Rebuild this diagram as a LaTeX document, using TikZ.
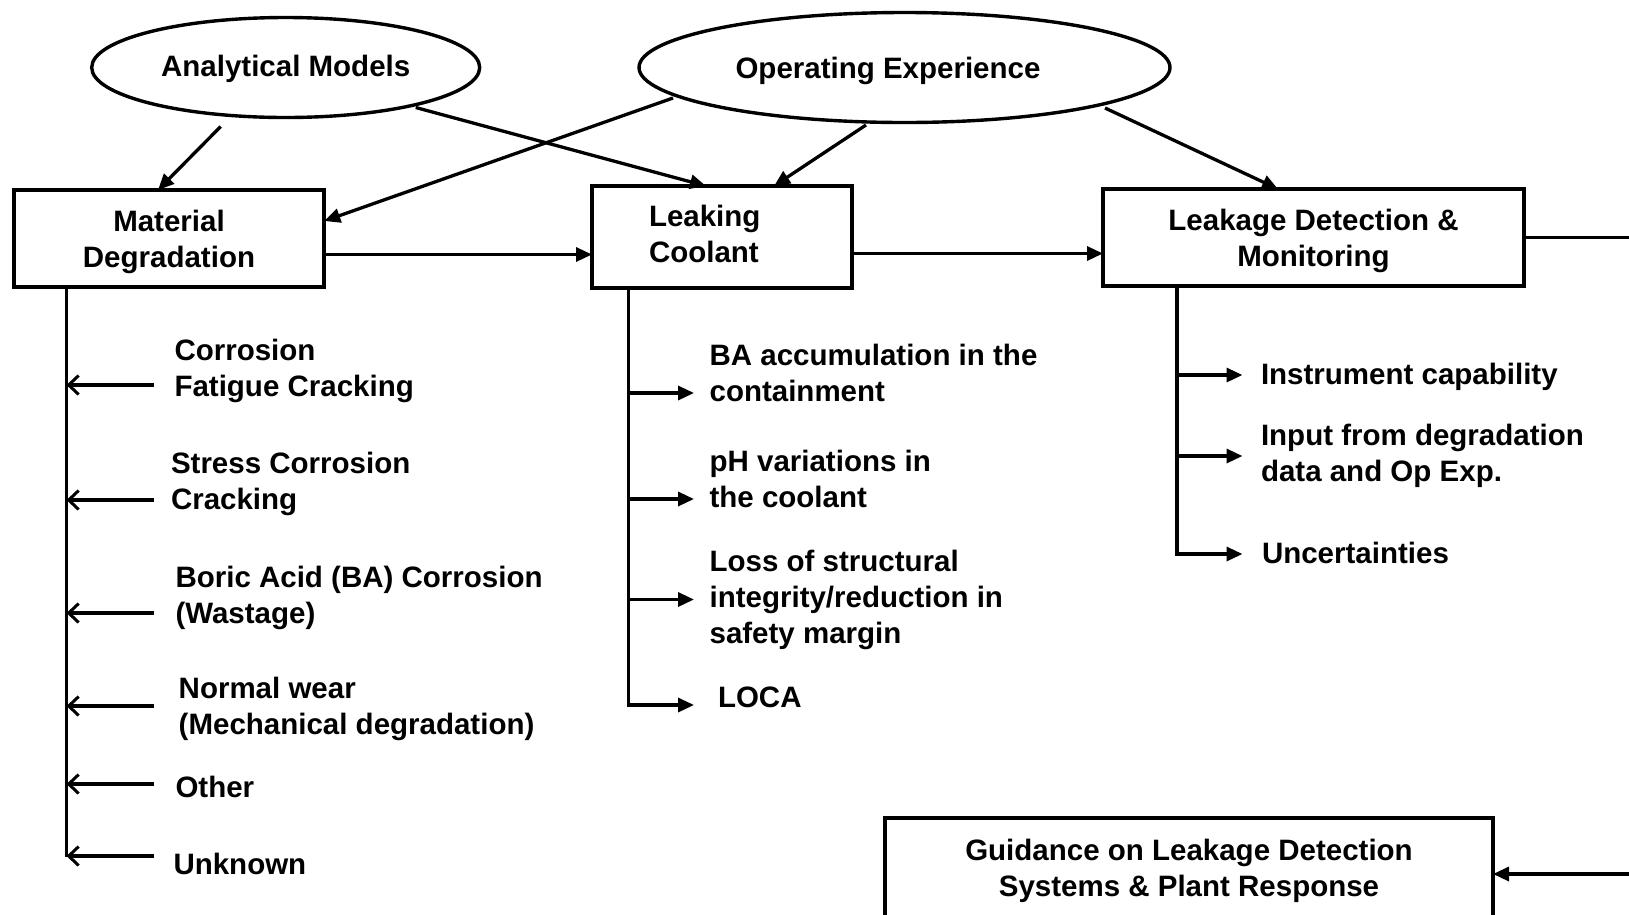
\documentclass[tikz,border=0pt]{standalone}
\usepackage{fontspec}
\setmainfont{Liberation Sans}
\usetikzlibrary{arrows.meta,shapes.geometric,calc}
\begin{document}
\begin{tikzpicture}[x=1pt,y=-1pt,
  every node/.style={font=\fontsize{29.5}{36}\selectfont\bfseries, inner sep=0pt, outer sep=0pt},
  box/.style={draw, line width=3.6pt, rectangle, align=center},
  ell/.style={draw, line width=3.4pt, ellipse},
  lbl/.style={anchor=north west, align=left},
  arr/.style={line width=3.3pt, -{Triangle[length=16pt,width=14pt]}},
  barb/.style={line width=3.3pt, -{Straight Barb[length=10pt,width=19pt,line width=3pt]}},
  ln/.style={line width=3.3pt}
]
\useasboundingbox (0,0) rectangle (1629,914);

% top ellipses
\node[ell, minimum width=388pt, minimum height=100pt] (am) at (285.7,67.5) {\rule{0pt}{24pt}Analytical Models};
\node[ell, minimum width=531pt, minimum height=110pt] (oe) at (904.5,67.5) {};
\node (oet) at (888,71) {Operating Experience};

% main boxes
\node[box, minimum width=310.5pt, minimum height=97pt] (md) at (169,238.5) {\rule{0pt}{28pt}Material\\Degradation};
\node[box, minimum width=260pt, minimum height=102pt] (lc) at (722,237) {};
\node[lbl] (lct) at (649,205) {Leaking\\Coolant};
\node[box, minimum width=421pt, minimum height=97pt] (le) at (1313.5,237.5) {\rule{0pt}{28.5pt}Leakage Detection \&\\Monitoring};
\node[box, minimum width=608pt, minimum height=104pt] (gd) at (1189,870) {\rule{0pt}{24pt}Guidance on Leakage Detection\\Systems \& Plant Response};

% ellipse connectors
\draw[arr] ($(am.south)+(-65,9)$) -- ($(md.north)+(-11,0)$);
\draw[arr] ($(am.center)+(130,40)$) -- ($(lc.north)+(-16,0)$);
\draw[arr] ($(oe.center)+(-231.5,30.5)$) -- ($(md.east)+(0,-17.5)$);
\draw[arr] ($(oe.south)+(-38.5,2.5)$) -- ($(lc.north)+(52,0)$);
\draw[arr] ($(oe.center)+(200.5,40.5)$) -- ($(le.north)+(-35.5,0)$);

% horizontal chain
\coordinate (mdo) at ($(md.east)+(0,16)$);
\draw[arr] (mdo) -- (mdo -| lc.west);
\coordinate (lco) at ($(lc.east)+(0,16.5)$);
\draw[arr] (lco) -- (lco -| le.west);
\draw[arr] (le.east) -- ++(130,0) coordinate (rc) |- ($(gd.east)+(0,4)$);

% left group (material degradation)
\coordinate (mdb) at (66.5,857);
\draw[ln] (md.south -| mdb) -- (mdb);
\node[lbl] (t1) at (174.5,339) {Corrosion\\Fatigue Cracking};
\node[lbl] (t2) at (171,452) {Stress Corrosion\\Cracking};
\node[lbl] (t3) at (175.5,566) {Boric Acid (BA) Corrosion\\(Wastage)};
\node[lbl] (t4) at (178.7,677) {Normal wear\\(Mechanical degradation)};
\node[lbl] (t5) at (175.5,776) {Other};
\node[lbl] (t6) at (173.5,853) {Unknown};
\coordinate (a1) at (154,385);
\coordinate (a2) at (154,500);
\coordinate (a3) at (154,613);
\coordinate (a4) at (154,706);
\coordinate (a5) at (154,784);
\coordinate (a6) at (154,856);
\foreach \a in {a1,a2,a3,a4,a5,a6} {\draw[barb] (\a) -- (\a -| mdb);}

% middle group (leaking coolant)
\coordinate (lcb) at (628.5,705);
\draw[arr] (lc.south -| lcb) -- (lcb) -- ++(65.5,0);
\coordinate (b1) at (628.5,393);
\coordinate (b2) at (628.5,499);
\coordinate (b3) at (628.5,599.5);
\foreach \b in {b1,b2,b3} {\draw[arr] (\b) -- ++(65.5,0);}
\node[lbl] (m1) at (709.6,344) {BA accumulation in the\\containment};
\node[lbl] (m2) at (709.6,450) {pH variations in\\the coolant};
\node[lbl] (m3) at (709.6,550) {Loss of structural\\integrity/reduction in\\safety margin};
\node[lbl] (m4) at (718,687) {LOCA};

% right group (leakage detection)
\coordinate (leb) at (1177,554);
\draw[arr] (le.south -| leb) -- (leb) -- ++(65.5,0);
\coordinate (c1) at (1177,375);
\coordinate (c2) at (1177,456);
\foreach \c in {c1,c2} {\draw[arr] (\c) -- ++(65.5,0);}
\node[lbl] (r1) at (1261,363) {Instrument capability};
\node[lbl] (r2) at (1261,424) {Input from degradation\\data and Op Exp.};
\node[lbl] (r3) at (1262,542) {Uncertainties};
\end{tikzpicture}
\end{document}
